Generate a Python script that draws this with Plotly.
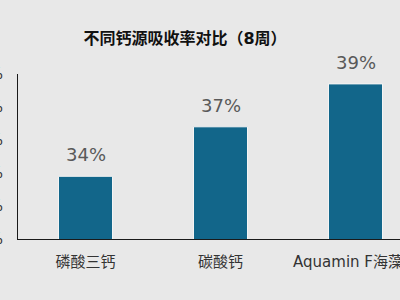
import plotly.graph_objects as go

categories = ["磷酸三钙", "碳酸钙", "Aquamin F海藻钙"]
values = [33.8, 36.8, 39.4]
value_labels = ["34%", "37%", "39%"]
y_ticks = [30, 32, 34, 36, 38, 40]
y_tick_labels = ["30%", "32%", "34%", "36%", "38%", "40%"]
title_text = "不同钙源吸收率对比（8周）"

FONT = "DejaVu Sans, Noto Sans CJK SC, sans-serif"
BG = "#e8e8e8"
BAR = "#12668a"

fig = go.Figure()
fig.add_trace(go.Bar(
    x=list(range(len(categories))), y=values,
    marker=dict(color=BAR, line=dict(color="#f4f4f4", width=1)),
    width=0.4,
    hoverinfo="skip",
))

for i, (v, t) in enumerate(zip(values, value_labels)):
    fig.add_annotation(x=i, y=v, text=t, showarrow=False, yanchor="bottom",
                       yshift=9, font=dict(family=FONT, size=18, color="#595959"))

fig.update_layout(
    width=400, height=300,
    margin=dict(l=18, r=0, t=74, b=61, autoexpand=False),
    paper_bgcolor=BG, plot_bgcolor=BG,
    showlegend=False,
    template="none",
    title=dict(text="<b>" + title_text + "</b>", x=185/400, xref="container", xanchor="center",
               y=1 - 38/300, yref="container", yanchor="middle",
               font=dict(family=FONT, size=16, color="#111111")),
    xaxis=dict(
        range=[-0.5, -0.5 + 382/135],
        tickvals=list(range(len(categories))), ticktext=categories,
        showline=True, linecolor="#1a1a1a", linewidth=1.2,
        showgrid=False, zeroline=False, ticks="", automargin=False,
        tickfont=dict(family=FONT, size=15, color="#333333"),
        ticklabelstandoff=9, ticklabeloverflow="allow",
    ),
    yaxis=dict(
        range=[30, 40], tickvals=y_ticks, ticktext=y_tick_labels,
        showline=True, linecolor="#1a1a1a", linewidth=1.2,
        showgrid=False, zeroline=False, ticks="", automargin=False,
        tickfont=dict(family=FONT, size=15, color="#333333"),
        ticklabelstandoff=11, ticklabeloverflow="allow",
    ),
    bargap=0.6,
)

fig.write_html("out.html")
